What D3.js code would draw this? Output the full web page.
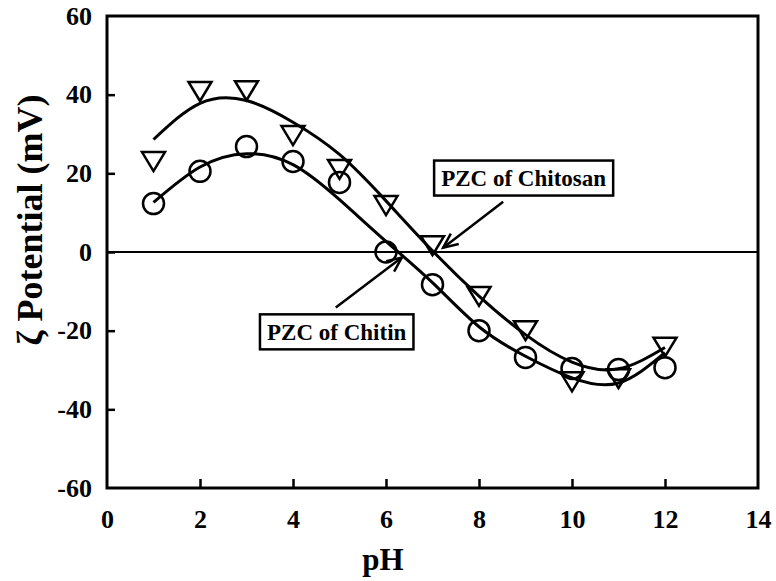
<!DOCTYPE html>
<html><head><meta charset="utf-8">
<script src="https://cdn.jsdelivr.net/npm/d3@7"></script>
<style>body{margin:0;background:#fff}svg{display:block}
svg text{font-family:"Liberation Serif","Times New Roman",Times,serif;font-weight:bold;fill:#000}</style>
</head><body>
<div id="chart"></div>
<script>
// ---- data ----
const pH = [1,2,3,4,5,6,7,8,9,10,11,12];
const chitosanZeta = [23, 40.8, 41, 29.6, 21, 11.8, 1.6, -11.3, -20, -33, -32.2, -24.2];
const chitinZeta   = [12.3, 20.5, 26.8, 23, 17.7, 0, -8.3, -20, -26.8, -29.6, -29.9, -29.4];
const chitosanFit  = [28.6, 37.8, 38.5, 33, 24.8, 13, 0.3, -11.2, -21, -28, -29.7, -24.3];
const chitinFit    = [12.6, 21.6, 25, 22.2, 13.3, 2.7, -7.8, -19, -26.5, -32, -33.3, -25.6];
const xTicks = [0,2,4,6,8,10,12,14];
const yTicks = [-60,-40,-20,0,20,40,60];
const labels = ["PZC of Chitosan","PZC of Chitin"];
const labelPos = [[8.96, 18.8],[4.94, -20.3]];
const arrowFrom = [[8.52, 12.8],[4.92, -14.1]];
const arrowTo = [[7.23, 1.1],[6.34, -1.4]];

const W = 776, H = 581;
const svg = d3.select("#chart").append("svg").attr("width", W).attr("height", H);
const x = d3.scaleLinear().domain([0,14]).range([107,758]);
const y = d3.scaleLinear().domain([-60,60]).range([488,16]);

// zero line
svg.append("line").attr("x1", x(0)).attr("x2", x(14)).attr("y1", y(0)).attr("y2", y(0))
  .attr("stroke","#000").attr("stroke-width",2);

// fit curves
const line = d3.line().x((d,i)=>x(pH[i])).y(d=>y(d)).curve(d3.curveNatural);
[chitosanFit, chitinFit].forEach(s=>{
  svg.append("path").attr("d", line(s)).attr("fill","none").attr("stroke","#000").attr("stroke-width",3);
});

// markers
const tri = "M-11.5,-9.5L11.5,-9.5L0,9.5Z";
svg.append("g").selectAll("path").data(chitosanZeta).join("path")
  .attr("d", tri).attr("transform",(d,i)=>`translate(${x(pH[i])},${y(d)})`)
  .attr("fill","none").attr("stroke","#000").attr("stroke-width",2.5);
svg.append("g").selectAll("circle").data(chitinZeta).join("circle")
  .attr("cx",(d,i)=>x(pH[i])).attr("cy",d=>y(d)).attr("r",10.5)
  .attr("fill","none").attr("stroke","#000").attr("stroke-width",2.5);

// axes
const fmt = d=>String(d);
const xAxis = d3.axisBottom(x).tickValues(xTicks).tickFormat(fmt).tickSizeInner(-9).tickSizeOuter(0).tickPadding(22);
const yAxis = d3.axisLeft(y).tickValues(yTicks).tickFormat(fmt).tickSizeInner(-8).tickSizeOuter(0).tickPadding(15);
const gx = svg.append("g").attr("transform",`translate(0,${y(-60)})`).call(xAxis);
const gy = svg.append("g").attr("transform",`translate(${x(0)},0)`).call(yAxis);
[gx,gy].forEach(g=>{
  g.attr("font-family",null).attr("font-size",null);
  g.select(".domain").remove();
  g.selectAll(".tick line").attr("stroke","#000").attr("stroke-width",2.5);
  g.selectAll(".tick text").style("font-size","26px");
});
gx.selectAll(".tick line").filter(d=>d===0||d===14).remove();
gy.selectAll(".tick line").filter(d=>d===-60||d===60).remove();
gx.selectAll(".tick text").attr("dy","0.71em");

// frame
svg.append("rect").attr("x",x(0)).attr("y",y(60)).attr("width",x(14)-x(0)).attr("height",y(-60)-y(60))
  .attr("fill","none").attr("stroke","#000").attr("stroke-width",3);

// axis titles
svg.append("text").attr("x",383).attr("y",570).attr("text-anchor","middle")
  .style("font-size","31px").text("pH");
svg.append("text").attr("transform","translate(42,220) rotate(-90)").attr("text-anchor","middle")
  .style("font-size","36px").text("ζ Potential (mV)");

// annotations
labels.forEach((t,i)=>{
  const g = svg.append("g");
  const tx = g.append("text").attr("x",x(labelPos[i][0])).attr("y",y(labelPos[i][1])).attr("dy","0.35em")
    .attr("text-anchor","middle").style("font-size","23px").text(t);
  const bb = tx.node().getBBox();
  const w = bb.width + 14, h = 35;
  g.insert("rect","text").attr("x",x(labelPos[i][0])-w/2).attr("y",y(labelPos[i][1])-h/2)
    .attr("width",w).attr("height",h).attr("fill","#fff").attr("stroke","#000").attr("stroke-width",2.5);
  const x1=x(arrowFrom[i][0]), y1=y(arrowFrom[i][1]), x2=x(arrowTo[i][0]), y2=y(arrowTo[i][1]);
  svg.append("line").attr("x1",x1).attr("y1",y1).attr("x2",x2).attr("y2",y2).attr("stroke","#000").attr("stroke-width",2.5);
  const ang = Math.atan2(y2-y1,x2-x1), L=16, a=0.42;
  const p = [[x2-L*Math.cos(ang-a), y2-L*Math.sin(ang-a)],[x2,y2],[x2-L*Math.cos(ang+a), y2-L*Math.sin(ang+a)]];
  svg.append("path").attr("d", d3.line()(p)).attr("fill","none").attr("stroke","#000").attr("stroke-width",2.5);
});
</script>
</body></html>
